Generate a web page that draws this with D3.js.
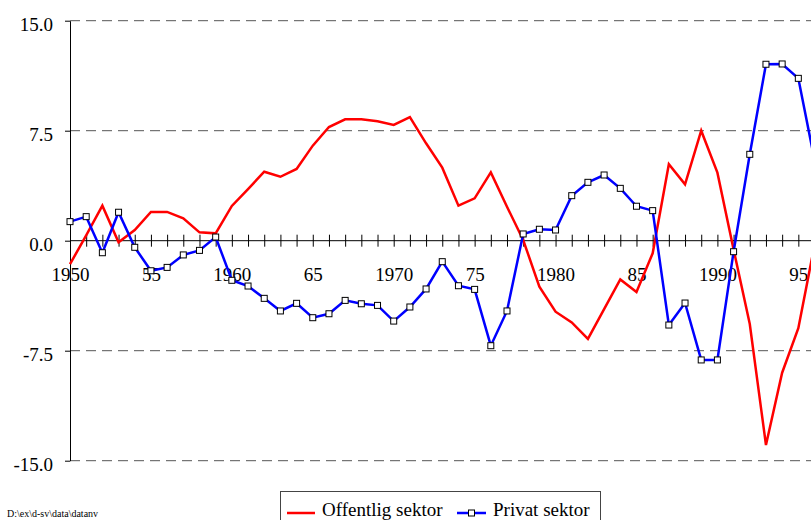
<!DOCTYPE html>
<html lang="sv">
<head>
    <meta charset="utf-8">
    <title>Offentlig och privat sektor</title>
	<script src="https://d3js.org/d3.v7.min.js"></script>
	<style>
		body { margin:0; background:#fff; }
		svg { font-family:"Liberation Serif", "Times New Roman", serif; }
		.grid line { stroke:#555; stroke-width:1px; stroke-dasharray:10,6; }
		.axis path, .axis line { stroke:#000; stroke-width:1px; }
		.axis text { font-size:19px; fill:#000; font-family:"Liberation Serif", serif; }
	</style>
</head>
<body>
<svg width="811" height="520"></svg>
<script>
	// ar 1950-1996
	var years = [1950,1951,1952,1953,1954,1955,1956,1957,1958,1959,
		1960,1961,1962,1963,1964,1965,1966,1967,1968,1969,
		1970,1971,1972,1973,1974,1975,1976,1977,1978,1979,
		1980,1981,1982,1983,1984,1985,1986,1987,1988,1989,
		1990,1991,1992,1993,1994,1995,1996];

	var offentlig = [-1.6,0.36,2.39,-0.11,0.73,1.96,1.96,1.53,0.57,0.50,
		2.37,3.52,4.70,4.36,4.89,6.48,7.75,8.28,8.28,8.14,
		7.89,8.43,6.64,4.98,2.39,2.89,4.66,2.32,0.05,-3.13,
		-4.84,-5.57,-6.70,-4.66,-2.64,-3.50,-0.86,5.21,3.84,7.50,
		4.64,-0.6,-5.68,-13.93,-9.0,-5.97,-0.3];

	var privat = [1.30,1.64,-0.82,1.94,-0.45,-2.05,-1.82,-0.97,-0.66,0.25,
		-2.70,-3.09,-3.93,-4.79,-4.27,-5.25,-4.98,-4.07,-4.30,-4.41,
		-5.48,-4.52,-3.29,-1.43,-3.07,-3.32,-7.16,-4.79,0.46,0.78,
		0.73,3.07,3.98,4.48,3.57,2.35,2.05,-5.75,-4.25,-8.13,
		-8.13,-0.75,5.89,12.03,12.05,11.07,5.5];

	var xTickYears = [1950,1955,1960,1965,1970,1975,1980,1985,1990,1995];
	var xTickLabels = ["1950","55","1960","65","1970","75","1980","85","1990","95"];
	var yTicks = [15,7.5,0,-7.5,-15];
	var yTickLabels = ["15.0","7.5","0.0","-7.5","-15.0"];
	var seriesNames = ["Offentlig sektor","Privat sektor"];

	var svg = d3.select("svg");

	var x = d3.scaleLinear().domain([1950,1997]).range([70,830.7]);
	var y = d3.scaleLinear().domain([-15,15]).range([460.7,20.7]);

	// dashed grid
	svg.append("g").attr("class","grid")
		.selectAll("line").data(yTicks.filter(function(d){ return d != 0; }))
		.enter().append("line")
		.attr("x1",x(1950)).attr("x2",811)
		.attr("y1",function(d){ return y(d); })
		.attr("y2",function(d){ return y(d); });

	// y axis
	var yAxis = d3.axisLeft(y)
		.tickValues(yTicks)
		.tickSize(5)
		.tickSizeOuter(0)
		.tickPadding(12)
		.tickFormat(function(d,i){ return yTickLabels[i]; });
	var gy = svg.append("g").attr("class","axis")
		.attr("transform","translate(" + x(1950) + ",0)")
		.call(yAxis);
	gy.selectAll("text").attr("dy","0.52em");

	// x axis along zero, ticks every year crossing the line
	var xAxis = d3.axisBottom(x)
		.tickValues(years)
		.tickSize(6)
		.tickSizeOuter(0)
		.tickFormat("");
	var gx = svg.append("g").attr("class","axis")
		.attr("transform","translate(0," + y(0) + ")")
		.call(xAxis);
	gx.select(".domain").attr("d","M" + x(1950) + ",0H811");
	gx.selectAll(".tick line").attr("y1",-6).attr("y2",6);

	var xLabels = d3.axisBottom(x)
		.tickValues(xTickYears)
		.tickSize(0)
		.tickFormat(function(d,i){ return xTickLabels[i]; });
	var gxl = svg.append("g").attr("class","axis")
		.attr("transform","translate(0," + y(0) + ")")
		.call(xLabels);
	gxl.select(".domain").remove();
	gxl.selectAll("text").attr("y",40).attr("dy",0);

	var line = d3.line()
		.x(function(d,i){ return x(years[i]); })
		.y(function(d){ return y(d); });

	svg.append("path").datum(offentlig)
		.attr("d",line)
		.attr("fill","none")
		.attr("stroke","#ff0000")
		.attr("stroke-width",2.5);

	svg.append("path").datum(privat)
		.attr("d",line)
		.attr("fill","none")
		.attr("stroke","#0000ff")
		.attr("stroke-width",2.5);

	svg.append("g").selectAll("rect").data(privat)
		.enter().append("rect")
		.attr("x",function(d,i){ return x(years[i]) - 3; })
		.attr("y",function(d){ return y(d) - 3; })
		.attr("width",6).attr("height",6)
		.attr("fill","#fff")
		.attr("stroke","#000")
		.attr("stroke-width",1);

	// legend
	var legend = svg.append("g");
	legend.append("rect")
		.attr("x",280.5).attr("y",491.5)
		.attr("width",320).attr("height",40)
		.attr("fill","#fff").attr("stroke","#444");
	legend.append("line")
		.attr("x1",287).attr("x2",315).attr("y1",513).attr("y2",513)
		.attr("stroke","#ff0000").attr("stroke-width",2.5);
	legend.append("text")
		.attr("x",322).attr("y",516)
		.attr("font-size",19)
		.text(seriesNames[0]);
	legend.append("line")
		.attr("x1",457).attr("x2",486).attr("y1",513).attr("y2",513)
		.attr("stroke","#0000ff").attr("stroke-width",2.5);
	legend.append("rect")
		.attr("x",468.5).attr("y",510).attr("width",6).attr("height",6)
		.attr("fill","#fff").attr("stroke","#000");
	legend.append("text")
		.attr("x",493).attr("y",516)
		.attr("font-size",19)
		.text(seriesNames[1]);

	// file path
	svg.append("text")
		.attr("x",7).attr("y",517)
		.attr("font-size",10)
		.text("D:\\ex\\d-sv\\data\\datanv");
</script>
</body>
</html>
